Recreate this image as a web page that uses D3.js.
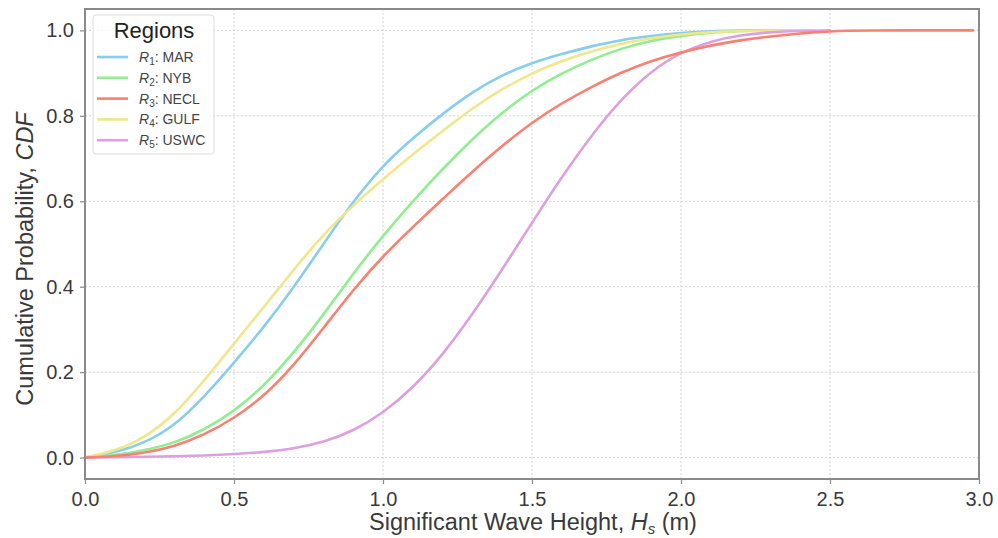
<!DOCTYPE html>
<html>
<head>
<meta charset="utf-8">
<script src="https://cdn.jsdelivr.net/npm/d3@7/dist/d3.min.js"></script>
<style>
  html, body { margin: 0; padding: 0; background: #fff; }
  svg { display: block; font-family: "Liberation Sans", Arial, Helvetica, sans-serif; }
</style>
</head>
<body>
<svg id="chart" width="998" height="538"></svg>
<script>
// ---- data ----
const xTicks = [0.0, 0.5, 1.0, 1.5, 2.0, 2.5, 3.0];
const yTicks = [0.0, 0.2, 0.4, 0.6, 0.8, 1.0];

const regionKeys = ["1", "2", "3", "4", "5"];
const regionNames = ["MAR", "NYB", "NECL", "GULF", "USWC"];
const regionColors = ["#87ceeb", "#90ee90", "#fa8072", "#f0e68c", "#dda0dd"];

const hsMAR  = [0, 0.1, 0.2, 0.3, 0.4, 0.5, 0.6, 0.7, 0.8, 0.9, 1.0, 1.1, 1.2, 1.3, 1.4, 1.5, 1.6, 1.7, 1.8, 1.9, 2.0, 2.1, 2.2, 2.3, 2.45];
const cdfMAR = [0, 0.011, 0.034, 0.074, 0.142, 0.222, 0.305, 0.398, 0.50, 0.60, 0.685, 0.748, 0.805, 0.856, 0.896, 0.924, 0.945, 0.963, 0.978, 0.987, 0.994, 0.998, 0.9995, 1.0, 1.0];

const hsNYB  = [0, 0.1, 0.2, 0.3, 0.4, 0.5, 0.6, 0.7, 0.8, 0.9, 1.0, 1.1, 1.2, 1.3, 1.4, 1.5, 1.6, 1.7, 1.8, 1.9, 2.0, 2.1, 2.2, 2.3, 2.45];
const cdfNYB = [0, 0.005, 0.017, 0.034, 0.065, 0.108, 0.167, 0.245, 0.334, 0.431, 0.52, 0.60, 0.676, 0.746, 0.808, 0.86, 0.90, 0.932, 0.958, 0.976, 0.988, 0.995, 0.999, 1.0, 1.0];

const hsNECL  = [0, 0.1, 0.2, 0.3, 0.4, 0.5, 0.6, 0.7, 0.8, 0.9, 1.0, 1.1, 1.2, 1.3, 1.4, 1.5, 1.6, 1.7, 1.8, 1.9, 2.0, 2.1, 2.2, 2.3, 2.4, 2.5, 2.6, 2.98];
const cdfNECL = [0, 0.003, 0.011, 0.026, 0.053, 0.092, 0.143, 0.215, 0.303, 0.393, 0.472, 0.54, 0.605, 0.67, 0.73, 0.785, 0.83, 0.868, 0.902, 0.929, 0.949, 0.965, 0.977, 0.986, 0.993, 0.998, 1.0, 1.0];

const hsGULF  = [0, 0.1, 0.2, 0.3, 0.4, 0.5, 0.6, 0.7, 0.8, 0.9, 1.0, 1.1, 1.2, 1.3, 1.4, 1.5, 1.6, 1.7, 1.8, 1.9, 2.0, 2.1, 2.2, 2.45];
const cdfGULF = [0, 0.015, 0.046, 0.10, 0.18, 0.267, 0.352, 0.44, 0.523, 0.59, 0.652, 0.71, 0.765, 0.818, 0.863, 0.90, 0.929, 0.951, 0.969, 0.982, 0.991, 0.996, 0.999, 1.0];

const hsUSWC  = [0, 0.1, 0.2, 0.3, 0.4, 0.5, 0.6, 0.7, 0.8, 0.9, 1.0, 1.1, 1.2, 1.3, 1.4, 1.5, 1.6, 1.7, 1.8, 1.9, 2.0, 2.1, 2.2, 2.3, 2.4, 2.5];
const cdfUSWC = [0, 0.001, 0.002, 0.003, 0.005, 0.008, 0.013, 0.021, 0.036, 0.062, 0.104, 0.163, 0.24, 0.335, 0.44, 0.55, 0.657, 0.755, 0.84, 0.905, 0.949, 0.975, 0.989, 0.996, 0.999, 1.0];

const seriesX = [hsMAR, hsNYB, hsNECL, hsGULF, hsUSWC];
const seriesY = [cdfMAR, cdfNYB, cdfNECL, cdfGULF, cdfUSWC];

// ---- layout ----
const svg = d3.select("#chart");
const pLeft = 85, pRight = 979, pTop = 9, pBottom = 479;
const x = d3.scaleLinear().domain([0, 3]).range([pLeft, pRight]);
const y = d3.scaleLinear().domain([-0.05, 1.05]).range([pBottom, pTop]);
const textColor = "#3a3a3a";
const spineColor = "#8a8a8a";

// grid
const grid = svg.append("g");
grid.selectAll("line.gx").data(xTicks).join("line")
  .attr("x1", d => x(d)).attr("x2", d => x(d))
  .attr("y1", pTop).attr("y2", pBottom)
  .attr("stroke", "#d2d2d2").attr("stroke-width", 1).attr("stroke-dasharray", "2,2");
grid.selectAll("line.gy").data(yTicks).join("line")
  .attr("y1", d => y(d)).attr("y2", d => y(d))
  .attr("x1", pLeft).attr("x2", pRight)
  .attr("stroke", "#d2d2d2").attr("stroke-width", 1).attr("stroke-dasharray", "2,2");

// lines
const line = d3.line().x(d => x(d[0])).y(d => y(d[1])).curve(d3.curveBasis);
const order = [0, 1, 3, 4, 2];
order.forEach(i => {
  const pts = seriesX[i].map((v, k) => [v, seriesY[i][k]]);
  svg.append("path").datum(pts)
    .attr("d", line)
    .attr("fill", "none")
    .attr("stroke", regionColors[i])
    .attr("stroke-width", 2.6)
    .attr("stroke-linecap", "round")
    .attr("stroke-linejoin", "round");
});

// axes
const xAxis = d3.axisBottom(x).tickValues(xTicks).tickFormat(d3.format(".1f")).tickSize(5).tickPadding(8);
const yAxis = d3.axisLeft(y).tickValues(yTicks).tickFormat(d3.format(".1f")).tickSize(5).tickPadding(6);

const gx = svg.append("g").attr("transform", `translate(0,${pBottom})`).call(xAxis);
const gy = svg.append("g").attr("transform", `translate(${pLeft},0)`).call(yAxis);
[gx, gy].forEach(g => {
  g.select(".domain").remove();
  g.selectAll(".tick line").attr("stroke", spineColor).attr("stroke-width", 1.2);
  g.selectAll(".tick text").attr("fill", textColor).style("font-size", "20px");
});

// spines
svg.append("rect")
  .attr("x", pLeft).attr("y", pTop)
  .attr("width", pRight - pLeft).attr("height", pBottom - pTop)
  .attr("fill", "none").attr("stroke", spineColor).attr("stroke-width", 2);

// axis labels
const xl = svg.append("text")
  .attr("x", 533).attr("y", 530)
  .attr("text-anchor", "middle").attr("fill", textColor)
  .style("font-size", "23.5px");
xl.append("tspan").text("Significant Wave Height, ");
xl.append("tspan").attr("font-style", "italic").text("H");
xl.append("tspan").attr("font-style", "italic").attr("dy", 4).style("font-size", "15px").text("s");
xl.append("tspan").attr("dy", -4).text(" (m)");

const yl = svg.append("text")
  .attr("transform", `translate(33,259) rotate(-90)`)
  .attr("text-anchor", "middle").attr("fill", textColor)
  .style("font-size", "23.5px");
yl.append("tspan").text("Cumulative Probability, ");
yl.append("tspan").attr("font-style", "italic").text("CDF");

// legend
const lg = svg.append("g");
lg.append("rect")
  .attr("x", 93).attr("y", 15).attr("width", 121).attr("height", 139)
  .attr("rx", 3).attr("fill", "#fff").attr("fill-opacity", 0.85)
  .attr("stroke", "#dcdcdc").attr("stroke-width", 1);
lg.append("text")
  .attr("x", 154).attr("y", 38).attr("text-anchor", "middle")
  .attr("fill", "#222").style("font-size", "22px").text("Regions");
regionKeys.forEach((k, i) => {
  const cy = 57 + i * 20.8;
  lg.append("line")
    .attr("x1", 97).attr("x2", 128).attr("y1", cy).attr("y2", cy)
    .attr("stroke", regionColors[i]).attr("stroke-width", 2.6);
  const t = lg.append("text")
    .attr("x", 139).attr("y", cy + 5).attr("fill", "#444").style("font-size", "14px");
  t.append("tspan").attr("font-style", "italic").text("R");
  t.append("tspan").attr("dy", 3).style("font-size", "10px").text(k);
  t.append("tspan").attr("dy", -3).text(": " + regionNames[i]);
});
</script>
</body>
</html>
